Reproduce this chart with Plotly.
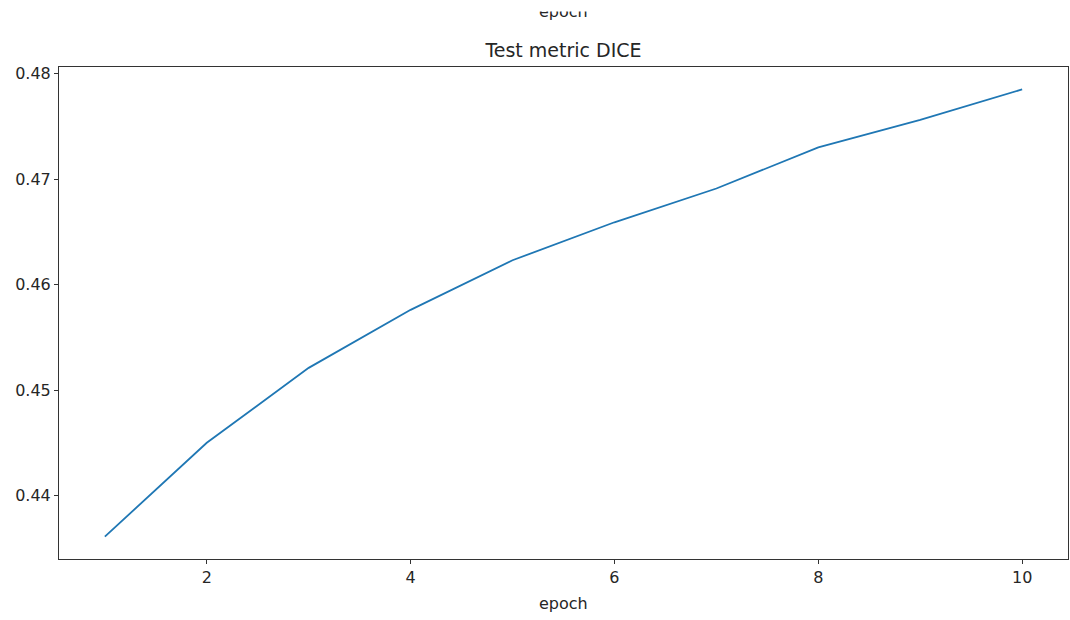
import plotly.graph_objects as go

epochs = [1, 2, 3, 4, 5, 6, 7, 8, 9, 10]
dice = [0.4361, 0.4450, 0.4521, 0.4576, 0.4623, 0.4659, 0.4691, 0.4730, 0.4756, 0.4785]
x_ticks = [2, 4, 6, 8, 10]
y_ticks = [0.44, 0.45, 0.46, 0.47, 0.48]

span_x = max(epochs) - min(epochs)
span_y = max(dice) - min(dice)
x_range = [min(epochs) - 0.05 * span_x, max(epochs) + 0.05 * span_x]
y_range = [min(dice) - 0.05 * span_y, max(dice) + 0.05 * span_y]

fig = go.Figure()
fig.add_trace(go.Scatter(x=epochs, y=dice, mode="lines",
                         line=dict(color="#1f77b4", width=1.8), showlegend=False))

TXT = "#262626"
font = dict(family="DejaVu Sans", size=16, color=TXT)
axis_common = dict(showgrid=False, zeroline=False, showline=True, mirror=True,
                   linecolor="#333333", linewidth=1, ticks="outside", ticklen=4,
                   tickcolor="#333333", tickfont=font)

PLOT_TOP, PLOT_BOTTOM, H = 67, 559, 620
plot_h = PLOT_BOTTOM - PLOT_TOP


def py(pix):
    """convert a pixel row (from page top) to paper y"""
    return (PLOT_BOTTOM - pix) / plot_h


fig.update_layout(
    width=1070, height=H,
    margin=dict(l=59, r=2, t=PLOT_TOP, b=H - PLOT_BOTTOM),
    paper_bgcolor="white", plot_bgcolor="white",
    font=font,
    title=dict(text="Test metric DICE", x=0.5, xref="paper", xanchor="center",
               y=1 - 50 / H, yanchor="middle",
               font=dict(family="DejaVu Sans", size=19, color=TXT)),
    xaxis=dict(range=x_range, tickvals=x_ticks, ticktext=[str(v) for v in x_ticks],
               **axis_common),
    yaxis=dict(range=y_range, tickvals=y_ticks, ticktext=[f"{v:.2f}" for v in y_ticks],
               **axis_common),
    annotations=[
        dict(text="epoch", xref="paper", yref="paper", x=0.5, y=py(603),
             xanchor="center", yanchor="middle", showarrow=False, font=font),
        # x-label of the previous (cut-off) subplot, clipped at its top
        dict(text="epoch", xref="paper", yref="paper", x=0.5, y=py(11),
             xanchor="center", yanchor="middle", showarrow=False, font=font),
        dict(text=" ", xref="paper", yref="paper", x=0.5, y=py(0),
             xanchor="center", yanchor="top", showarrow=False,
             width=90, height=10, borderpad=0, bgcolor="white",
             font=dict(size=1)),
    ],
)

fig.write_html("out.html")
